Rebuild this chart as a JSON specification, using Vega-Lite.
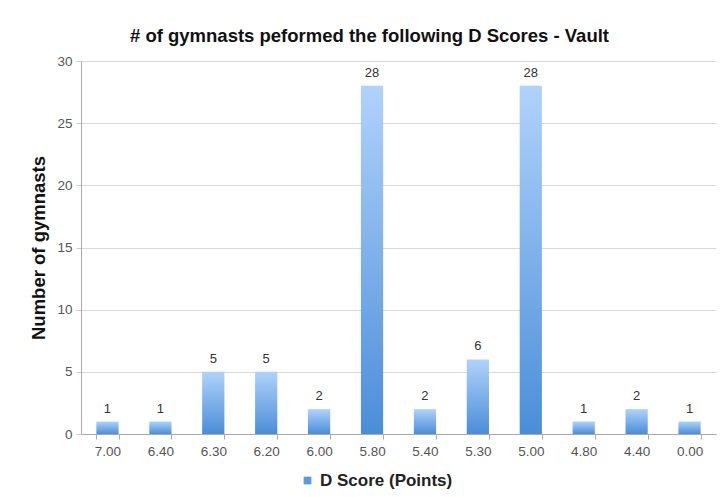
{
  "$schema": "https://vega.github.io/schema/vega-lite/v6.json",
  "width": 635,
  "height": 373,
  "autosize": {"type": "none"},
  "padding": {"left": 81, "top": 61, "right": 4, "bottom": 63},
  "background": "white",
  "config": {
    "font": "Liberation Sans",
    "view": {"stroke": null}
  },
  "title": {
    "text": "# of gymnasts peformed the following D Scores - Vault",
    "fontSize": 18.5,
    "fontWeight": "bold",
    "color": "#111111",
    "anchor": "middle",
    "offset": 9,
    "dx": -29
  },
  "data": {
    "values": [
      {"score": "7.00", "count": 1, "series": "D Score (Points)"},
      {"score": "6.40", "count": 1, "series": "D Score (Points)"},
      {"score": "6.30", "count": 5, "series": "D Score (Points)"},
      {"score": "6.20", "count": 5, "series": "D Score (Points)"},
      {"score": "6.00", "count": 2, "series": "D Score (Points)"},
      {"score": "5.80", "count": 28, "series": "D Score (Points)"},
      {"score": "5.40", "count": 2, "series": "D Score (Points)"},
      {"score": "5.30", "count": 6, "series": "D Score (Points)"},
      {"score": "5.00", "count": 28, "series": "D Score (Points)"},
      {"score": "4.80", "count": 1, "series": "D Score (Points)"},
      {"score": "4.40", "count": 2, "series": "D Score (Points)"},
      {"score": "0.00", "count": 1, "series": "D Score (Points)"}
    ]
  },
  "encoding": {
    "x": {
      "field": "score",
      "type": "nominal",
      "sort": null,
      "scale": {"paddingInner": 0.58, "paddingOuter": 0.29},
      "axis": {
        "title": null,
        "labelAngle": 0,
        "labelFontSize": 13.5,
        "labelColor": "#555555",
        "labelPadding": 5,
        "domainColor": "#aaaaaa",
        "tickColor": "#aaaaaa",
        "tickSize": 5,
        "tickBand": "extent",
        "grid": false
      }
    },
    "y": {
      "field": "count",
      "type": "quantitative",
      "scale": {"domain": [0, 30]},
      "axis": {
        "title": "Number of gymnasts",
        "titleFontSize": 18.5,
        "titleFontWeight": "bold",
        "titleColor": "#111111",
        "titlePadding": 8,
        "values": [0, 5, 10, 15, 20, 25, 30],
        "labelFontSize": 13.5,
        "labelColor": "#555555",
        "labelPadding": 4,
        "domainColor": "#aaaaaa",
        "tickColor": "#cccccc",
        "tickSize": 5,
        "gridColor": "#d9d9d9"
      }
    }
  },
  "layer": [
    {
      "mark": {
        "type": "bar",
        "color": {
          "gradient": "linear",
          "x1": 0, "y1": 0, "x2": 0, "y2": 1,
          "stops": [
            {"offset": 0, "color": "#b0d2fb"},
            {"offset": 1, "color": "#4a8ed8"}
          ]
        }
      }
    },
    {
      "mark": {"type": "point", "shape": "square", "filled": true, "opacity": 0},
      "encoding": {
        "color": {
          "field": "series",
          "type": "nominal",
          "scale": {"range": ["#5b9bd9"]},
          "legend": {
            "title": null,
            "orient": "none",
            "legendX": 218,
            "legendY": 411,
            "symbolType": "square",
            "symbolSize": 60,
            "symbolOpacity": 1,
            "labelFontSize": 17,
            "labelFontWeight": "bold",
            "labelColor": "#222222",
            "labelOffset": 4
          }
        }
      }
    },
    {
      "mark": {"type": "text", "dy": -13, "fontSize": 13, "color": "#333333"},
      "encoding": {"text": {"field": "count", "type": "quantitative"}}
    }
  ]
}
